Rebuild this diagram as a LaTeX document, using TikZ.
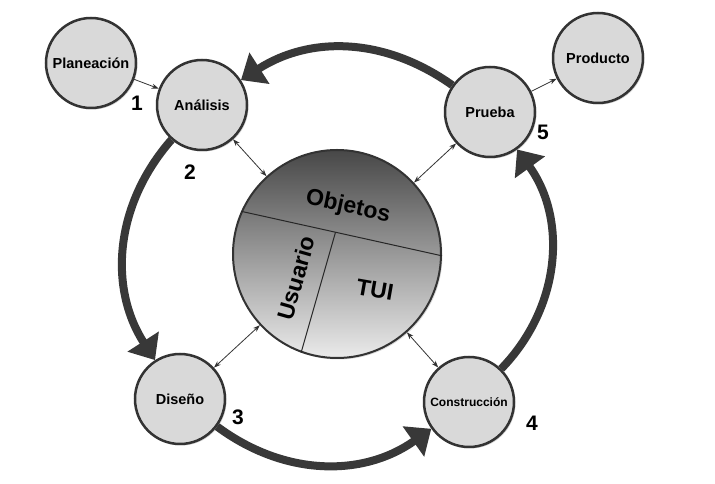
\documentclass[tikz,border=0pt]{standalone}
\usepackage{fontspec}
\setmainfont{Liberation Sans}
\usetikzlibrary{arrows.meta,positioning,calc,shadows}

\begin{document}
\begin{tikzpicture}[
    x=1pt, y=1pt,
    stage/.style={circle, draw=black!80, line width=2.5pt, fill=black!15, minimum size=90pt, inner sep=0pt, align=center,
        font=\bfseries\fontsize{14.5}{17}\selectfont,
        drop shadow={shadow xshift=1.5pt, shadow yshift=-1.5pt, opacity=0.35}},
    flow/.style={->, >={Stealth[length=7pt,width=5pt]}, line width=0.8pt, draw=black!80},
    link/.style={<->, >={Stealth[length=7pt,width=5pt]}, line width=0.8pt, draw=black!80},
    cyclearrow/.style={-{Triangle[length=22pt,width=36pt]}, line width=8pt, draw=black!78},
    num/.style={font=\bfseries\fontsize{21}{24}\selectfont},
    sector/.style={font=\bfseries\fontsize{23}{26}\selectfont},
    divider/.style={line width=1pt, draw=black!85}
]
\useasboundingbox (0,0) rectangle (715,484);

% Central circle
\node[circle, draw=black!80, line width=2pt, minimum size=208pt, inner sep=0pt,
      top color=black!72, bottom color=black!8,
      drop shadow={shadow xshift=1.5pt, shadow yshift=-1.5pt, opacity=0.3}] (core) at (337,230) {};
\draw[divider] (core.156) -- (core.-1);
\draw[divider] ($(core.156)!0.47!(core.-1)$) -- (core.250);
\node[sector, rotate=-12] (objetos) at (348,277) {Objetos};
\node[sector, rotate=74] (usuario) at (296,206) {Usuario};
\node[sector, rotate=-10] (tui) at (375,194) {TUI};

% Stages
\node[stage] (plan) at (91,421) {Planeación};
\node[stage] (anal) at (202,379) {Análisis};
\node[stage] (prue) at (490,372) {Prueba};
\node[stage] (prod) at (598,426) {Producto};
\node[stage] (dise) at (180,85) {Diseño};
\node[stage, font=\bfseries\fontsize{12}{14}\selectfont] (cons) at (469,82) {Construcción};

% Numbers
\node[num] (n1) at (137,381) {1};
\node[num] (n2) at (190,312) {2};
\node[num] (n3) at (238,67) {3};
\node[num] (n4) at (532,61) {4};
\node[num] (n5) at (543,352) {5};

% Cycle
\draw[cyclearrow] (prue) to[bend right=34] (anal);
\draw[cyclearrow] (anal) to[bend right=37] (dise);
\draw[cyclearrow] (dise) to[bend right=36] (cons);
\draw[cyclearrow] (cons) to[bend right=40] (prue);

% Links
\draw[flow] (plan) -- (anal);
\draw[flow] (prue) -- (prod);
\draw[link] (anal) -- (core);
\draw[link] (prue) -- (core);
\draw[link] (dise) -- (core);
\draw[link] (cons) -- (core);

\end{tikzpicture}
\end{document}
